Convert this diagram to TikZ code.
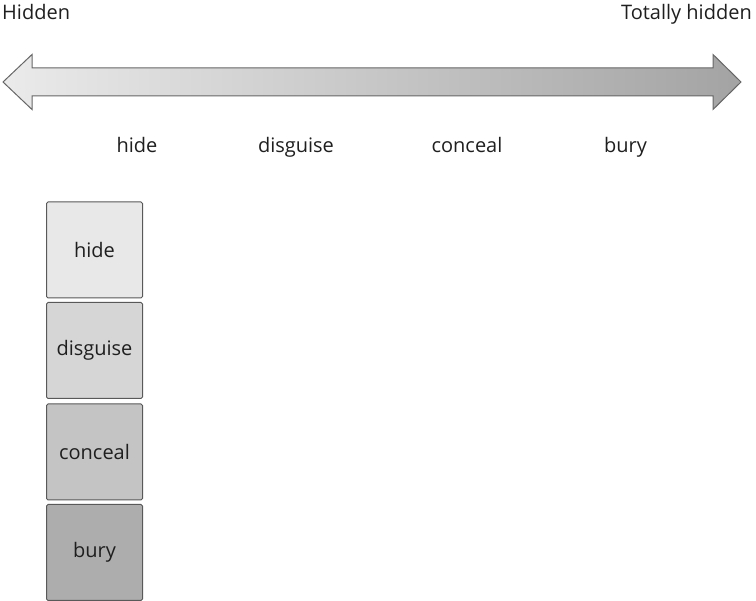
\documentclass[tikz,border=0pt]{standalone}
\usepackage{fontspec}
\setmainfont{Open Sans}
\begin{document}
\begin{tikzpicture}[x=1pt,y=-1pt,
  lbl/.style={font=\fontsize{20}{22}\selectfont, text=black!88, inner sep=0pt},
  wbox/.style={draw=black!65, line width=1pt, rounded corners=1.5pt, minimum width=96pt, minimum height=96pt, inner sep=0pt, font=\fontsize{20}{22}\selectfont, text=black!88}]
\useasboundingbox (0,0) rectangle (756,601);
\definecolor{arrL}{gray}{0.92}
\definecolor{arrR}{gray}{0.64}
% double arrow
\path[left color=arrL, right color=arrR, draw=black!60, line width=1pt]
  (3,82) -- (32,54.5) -- (32,68) -- (713,68) -- (713,54.5) -- (741,82)
  -- (713,109.5) -- (713,96) -- (32,96) -- (32,109.5) -- cycle;
\node[lbl, anchor=base west] (hidden) at (2,20) {Hidden};
\node[lbl, anchor=base east] (total) at (752,20) {Totally hidden};
\node[lbl, anchor=base] (l1) at (137,153) {hide};
\node[lbl, anchor=base] (l2) at (296,153) {disguise};
\node[lbl, anchor=base] (l3) at (467,153) {conceal};
\node[lbl, anchor=base] (l4) at (625.5,153) {bury};
\definecolor{b1}{gray}{0.91}
\definecolor{b2}{gray}{0.84}
\definecolor{b3}{gray}{0.77}
\definecolor{b4}{gray}{0.68}
\node[wbox, fill=b1] (hide) at (94.5,250) {hide};
\node[wbox, fill=b2] (disguise) at (94.5,350.5) {disguise};
\node[wbox, fill=b3] (conceal) at (94.5,452) {conceal};
\node[wbox, fill=b4] (bury) at (94.5,552.5) {bury};
\end{tikzpicture}
\end{document}
